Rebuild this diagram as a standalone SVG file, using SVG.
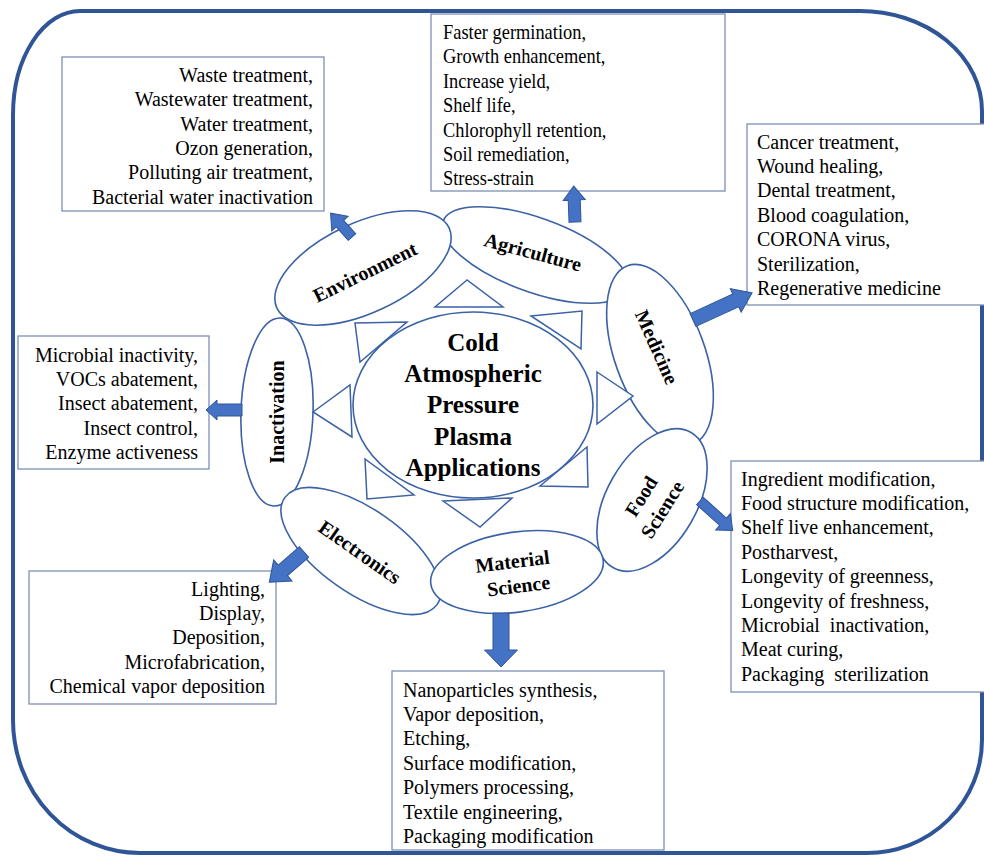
<svg xmlns="http://www.w3.org/2000/svg" width="984" height="856" viewBox="0 0 984 856">
<defs>
<style>
.frame{fill:#ffffff;stroke:#2f5597;stroke-width:4}
.box{fill:#ffffff;stroke:#7d90b4;stroke-width:1.3}
.ell{fill:#ffffff;stroke:#3a62a5;stroke-width:1.6}
.tri{fill:#ffffff;stroke:#3a62a5;stroke-width:1.5}
.arr{fill:#4472c4;stroke:#2f5597;stroke-width:1}
.t{font-family:"Liberation Serif","Times New Roman",serif;font-size:20px;fill:#000000}
.r{text-anchor:end}
.lbl{font-family:"Liberation Serif","Times New Roman",serif;font-size:20px;font-weight:bold;fill:#000000;text-anchor:middle}
.ctr{font-family:"Liberation Serif","Times New Roman",serif;font-size:25px;font-weight:bold;fill:#000000;text-anchor:middle}
</style>
</defs>
<path class="frame" d="M 80,11 L 860,11 A 122,100 0 0 1 982,111 L 982,740 A 115,113 0 0 1 867,853 L 140,853 A 127,133 0 0 1 13,720 L 13,115 A 67,104 0 0 1 80,11 Z"/>

<g id="box-environment">
<rect class="box" x="62" y="57" width="262" height="154"/>
<text class="t r" x="313" y="82">Waste treatment,</text>
<text class="t r" x="313" y="106.3">Wastewater treatment,</text>
<text class="t r" x="313" y="130.6">Water treatment,</text>
<text class="t r" x="313" y="154.9">Ozon generation,</text>
<text class="t r" x="313" y="179.2">Polluting air treatment,</text>
<text class="t r" x="313" y="203.5">Bacterial water inactivation</text>
</g>
<g id="box-agriculture">
<rect class="box" x="431" y="14" width="294" height="177"/>
<g transform="translate(443,0) scale(0.92,1)">
<text class="t" x="0" y="39">Faster germination,</text>
<text class="t" x="0" y="63.4">Growth enhancement,</text>
<text class="t" x="0" y="87.8">Increase yield,</text>
<text class="t" x="0" y="112.2">Shelf life,</text>
<text class="t" x="0" y="136.6">Chlorophyll retention,</text>
<text class="t" x="0" y="161">Soil remediation,</text>
<text class="t" x="0" y="185.4">Stress-strain</text>
</g>
</g>
<g id="box-medicine">
<rect class="box" x="747" y="124" width="250" height="181"/>
<text class="t" x="757" y="148.5">Cancer treatment,</text>
<text class="t" x="757" y="172.9">Wound healing,</text>
<text class="t" x="757" y="197.3">Dental treatment,</text>
<text class="t" x="757" y="221.7">Blood coagulation,</text>
<text class="t" x="757" y="246.1">CORONA virus,</text>
<text class="t" x="757" y="270.5">Sterilization,</text>
<text class="t" x="757" y="294.9">Regenerative medicine</text>
</g>
<g id="box-inactivation">
<rect class="box" x="18" y="336" width="191" height="133"/>
<text class="t r" x="198" y="361.5">Microbial inactivity,</text>
<text class="t r" x="198" y="385.9">VOCs abatement,</text>
<text class="t r" x="198" y="410.3">Insect abatement,</text>
<text class="t r" x="198" y="434.7">Insect control,</text>
<text class="t r" x="198" y="459.1">Enzyme activeness</text>
</g>
<g id="box-food">
<rect class="box" x="731" y="461" width="270" height="231"/>
<text class="t" x="741" y="485.5">Ingredient modification,</text>
<text class="t" x="741" y="509.9">Food structure modification,</text>
<text class="t" x="741" y="534.3">Shelf live enhancement,</text>
<text class="t" x="741" y="558.7">Postharvest,</text>
<text class="t" x="741" y="583.1">Longevity of greenness,</text>
<text class="t" x="741" y="607.5">Longevity of freshness,</text>
<text class="t" x="741" y="631.9" xml:space="preserve">Microbial  inactivation,</text>
<text class="t" x="741" y="656.3">Meat curing,</text>
<text class="t" x="741" y="680.7" xml:space="preserve">Packaging  sterilization</text>
</g>
<g id="box-electronics">
<rect class="box" x="29" y="571" width="247" height="133"/>
<text class="t r" x="265" y="595.5">Lighting,</text>
<text class="t r" x="265" y="619.9">Display,</text>
<text class="t r" x="265" y="644.3">Deposition,</text>
<text class="t r" x="265" y="668.7">Microfabrication,</text>
<text class="t r" x="265" y="693.1">Chemical vapor deposition</text>
</g>
<g id="box-material">
<rect class="box" x="392" y="671" width="272" height="179"/>
<text class="t" x="403" y="696.5">Nanoparticles synthesis,</text>
<text class="t" x="403" y="720.9">Vapor deposition,</text>
<text class="t" x="403" y="745.3">Etching,</text>
<text class="t" x="403" y="769.7">Surface modification,</text>
<text class="t" x="403" y="794.1">Polymers processing,</text>
<text class="t" x="403" y="818.5">Textile engineering,</text>
<text class="t" x="403" y="842.9">Packaging modification</text>
</g>

<g id="node-agriculture">
<ellipse class="ell" cx="535" cy="255" rx="98" ry="37" transform="rotate(20 535 255)"/>
<text class="lbl" x="533" y="252" dy="0.35em" transform="rotate(15 533 252)">Agriculture</text>
</g>
<g id="node-environment">
<ellipse class="ell" cx="363" cy="268" rx="95" ry="45" transform="rotate(-25 363 268)"/>
<text class="lbl" x="365" y="272" dy="0.35em" transform="rotate(-26 365 272)">Environment</text>
</g>
<g id="node-medicine">
<ellipse class="ell" cx="660" cy="355" rx="45" ry="95" transform="rotate(-20 660 355)"/>
<text class="lbl" x="657" y="347" dy="0.35em" transform="rotate(66 657 347)">Medicine</text>
</g>
<g id="node-food">
<ellipse class="ell" cx="652" cy="500" rx="45" ry="78" transform="rotate(30 652 500)"/>
<g transform="rotate(-58 652 503)">
<text class="lbl" x="652" y="490" dy="0.35em">Food</text>
<text class="lbl" x="652" y="515" dy="0.35em">Science</text>
</g>
</g>
<g id="node-inactivation">
<ellipse class="ell" cx="277" cy="412" rx="36" ry="94" transform="rotate(2 277 412)"/>
<text class="lbl" x="277" y="412" dy="0.35em" transform="rotate(-90 277 412)">Inactivation</text>
</g>
<g id="node-electronics">
<ellipse class="ell" cx="361" cy="551" rx="93" ry="42" transform="rotate(35 361 551)"/>
<text class="lbl" x="360" y="552" dy="0.35em" transform="rotate(35 360 552)">Electronics</text>
</g>
<g id="node-material">
<ellipse class="ell" cx="517" cy="572" rx="87" ry="40" transform="rotate(-8 517 572)"/>
<g transform="rotate(-7 515 574)">
<text class="lbl" x="514" y="561" dy="0.35em">Material</text>
<text class="lbl" x="517" y="586" dy="0.35em">Science</text>
</g>
</g>
<g id="node-center">
<ellipse class="ell" cx="473" cy="405" rx="120" ry="93"/>
<text class="ctr" x="473" y="342" dy="0.35em">Cold</text>
<text class="ctr" x="473" y="373" dy="0.35em">Atmospheric</text>
<text class="ctr" x="473" y="404" dy="0.35em">Pressure</text>
<text class="ctr" x="473" y="436" dy="0.35em">Plasma</text>
<text class="ctr" x="473" y="467" dy="0.35em">Applications</text>
</g>

<g id="connectors">
<polygon class="tri" points="467,280 435,307 503,307"/>
<polygon class="tri" points="531,316 582,311 581,349"/>
<polygon class="tri" points="597,372 633,396 597,424"/>
<polygon class="tri" points="587,447 588,487 540,486"/>
<polygon class="tri" points="443,501 512,498 480,527"/>
<polygon class="tri" points="365,459 367,499 414,495"/>
<polygon class="tri" points="313,412 350,385 352,437"/>
<polygon class="tri" points="355,323 407,322 360,362"/>

<path class="arr" transform="translate(352,237) rotate(-132)" d="M0,-5 L18,-5 L18,-11 L32,0 L18,11 L18,5 L0,5 Z"/>
<path class="arr" transform="translate(575,222) rotate(-92)" d="M0,-6 L22,-6 L22,-11 L36,0 L22,11 L22,6 L0,6 Z"/>
<path class="arr" transform="translate(693,320) rotate(-24.6)" d="M0,-7 L47,-7 L47,-13 L65,0 L47,13 L47,7 L0,7 Z"/>
<path class="arr" transform="translate(242,410) rotate(180)" d="M0,-6 L25,-6 L25,-10 L36,0 L25,10 L25,6 L0,6 Z"/>
<path class="arr" transform="translate(700,501) rotate(42)" d="M0,-5 L31,-5 L31,-11 L44,0 L31,11 L31,5 L0,5 Z"/>
<path class="arr" transform="translate(304,552) rotate(139)" d="M0,-7 L28,-7 L28,-14 L46,0 L28,14 L28,7 L0,7 Z"/>
<path class="arr" transform="translate(501,613) rotate(90)" d="M0,-8 L37,-8 L37,-16.5 L54,0 L37,16.5 L37,8 L0,8 Z"/>
</g>
</svg>
